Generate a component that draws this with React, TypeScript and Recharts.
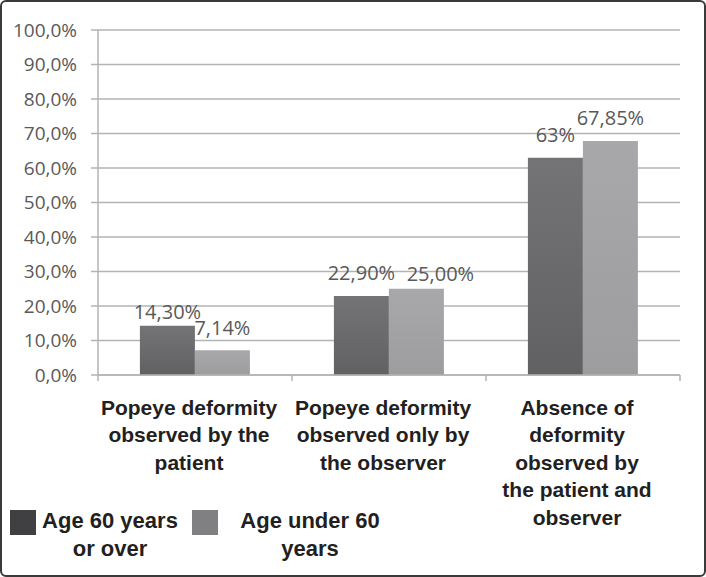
import React from "react";
import { BarChart, Bar, XAxis, YAxis, CartesianGrid, LabelList } from "recharts";

// ─── data ─────────────────────────────────────────────────────────────────────

const categories: string[][] = [
  ["Popeye deformity", "observed by the", "patient"],
  ["Popeye deformity", "observed only by", "the observer"],
  ["Absence of", "deformity", "observed by", "the patient and", "observer"],
];
const olderValues = [14.3, 22.9, 63];
const youngerValues = [7.14, 25.0, 67.85];
const olderLabels = ["14,30%", "22,90%", "63%"];
const youngerLabels = ["7,14%", "25,00%", "67,85%"];
const seriesNames = [["Age 60 years", "or over"], ["Age under 60", "years"]];
const yTicks = [0, 10, 20, 30, 40, 50, 60, 70, 80, 90, 100];

const rows = categories.map((c, i) => ({
  key: String(i),
  older: olderValues[i],
  younger: youngerValues[i],
  olderLabel: olderLabels[i],
  youngerLabel: youngerLabels[i],
}));

const W = 706;
const H = 577;
const PLOT_LEFT = 98;
const PLOT_RIGHT = 680;
const PLOT_BOTTOM = 375;
const BAND = (PLOT_RIGHT - PLOT_LEFT) / categories.length;
const GRID = "#b3b3b3";
const LEGEND_SWATCH = ["#404042", "#808082"];

// label placement tweaks (Excel moved a couple of labels to avoid collisions)
const LABEL_NUDGE: Record<string, [number, number]> = {
  "older-0": [0, 9],
  "younger-1": [24, 8],
};

function valueLabel(series: string) {
  return (props: any) => {
    const { x, y, width, value, index } = props;
    const [dx, dy] = LABEL_NUDGE[`${series}-${index}`] ?? [0, 0];
    return (
      <text
        x={Number(x) + Number(width) / 2 + dx}
        y={Number(y) - 23 + dy}
        textAnchor="middle"
        dominantBaseline="central"
        fontSize={20}
        fill="#595959"
        fontFamily="'Open Sans', sans-serif"
      >
        {value}
      </text>
    );
  };
}

function CategoryTick(props: any) {
  const { x, y, index } = props;
  const lines = categories[index] ?? [];
  const last = index === categories.length - 1;
  return (
    <g>
      <line x1={x - BAND / 2} x2={x - BAND / 2} y1={y} y2={y + 6} stroke={GRID} strokeWidth={1.5} />
      {last && <line x1={x + BAND / 2} x2={x + BAND / 2} y1={y} y2={y + 6} stroke={GRID} strokeWidth={1.5} />}
      {lines.map((l, i) => (
        <text
          key={i}
          x={x - 6}
          y={y + 32 + i * 27.5}
          textAnchor="middle"
          dominantBaseline="central"
          fontFamily="'Liberation Sans', Arial, sans-serif"
          fontWeight={700}
          fontSize={21}
          fill="#231f20"
        >
          {l}
        </text>
      ))}
    </g>
  );
}

// legend drawn outside the chart so it does not shrink the plot area
function LegendBox() {
  const items = [
    { sx: 10, cx: 110 },
    { sx: 192, cx: 310 },
  ];
  return (
    <svg width={W} height={70} style={{ position: "absolute", left: 0, top: 500 }}>
      {items.map((it, i) => (
        <g key={i}>
          <rect x={it.sx} y={10} width={26} height={25} fill={LEGEND_SWATCH[i]} />
          {seriesNames[i].map((l, j) => (
            <text
              key={j}
              x={it.cx}
              y={20 + j * 28}
              textAnchor="middle"
              dominantBaseline="central"
              fontFamily="'Liberation Sans', Arial, sans-serif"
              fontWeight={700}
              fontSize={22}
              fill="#231f20"
            >
              {l}
            </text>
          ))}
        </g>
      ))}
    </svg>
  );
}

export default function App() {
  return (
    <div style={{ position: "absolute", left: 0, top: 0, width: W, height: H, background: "#fff" }}>
      <BarChart
        width={W}
        height={H}
        data={rows}
        margin={{ top: 30, right: W - PLOT_RIGHT, left: 0, bottom: 0 }}
        barCategoryGap="21.6%"
        barGap={0}
      >
        <defs>
          <linearGradient id="gOlder" x1="0" y1="0" x2="0" y2="1">
            <stop offset="0%" stopColor="#747476" />
            <stop offset="100%" stopColor="#616163" />
          </linearGradient>
          <linearGradient id="gYounger" x1="0" y1="0" x2="0" y2="1">
            <stop offset="0%" stopColor="#a8a8aa" />
            <stop offset="100%" stopColor="#9d9d9f" />
          </linearGradient>
        </defs>
        <CartesianGrid vertical={false} stroke={GRID} strokeWidth={1.5} />
        <XAxis
          dataKey="key"
          height={H - PLOT_BOTTOM}
          axisLine={{ stroke: GRID, strokeWidth: 1.5 }}
          tickLine={false}
          tickSize={0}
          tickMargin={0}
          interval={0}
          tick={<CategoryTick />}
        />
        <YAxis
          width={PLOT_LEFT}
          domain={[0, 100]}
          ticks={yTicks}
          interval={0}
          axisLine={{ stroke: GRID, strokeWidth: 1.5 }}
          tickLine={{ stroke: GRID, strokeWidth: 1.5 }}
          tickSize={7}
          tickMargin={14}
          tick={{ fontSize: 19, fill: "#595959", fontFamily: "'Open Sans', sans-serif" }}
          tickFormatter={(v: number) => `${v.toFixed(1).replace(".", ",")}%`}
        />
        <Bar dataKey="older" name="Age 60 years or over" fill="url(#gOlder)" isAnimationActive={false}>
          <LabelList dataKey="olderLabel" content={valueLabel("older")} />
        </Bar>
        <Bar dataKey="younger" name="Age under 60 years" fill="url(#gYounger)" isAnimationActive={false}>
          <LabelList dataKey="youngerLabel" content={valueLabel("younger")} />
        </Bar>
      </BarChart>
      <LegendBox />
      <div
        style={{
          position: "absolute",
          inset: 0,
          border: "2px solid #3a3a3a",
          borderRadius: 6,
          pointerEvents: "none",
        }}
      />
    </div>
  );
}
